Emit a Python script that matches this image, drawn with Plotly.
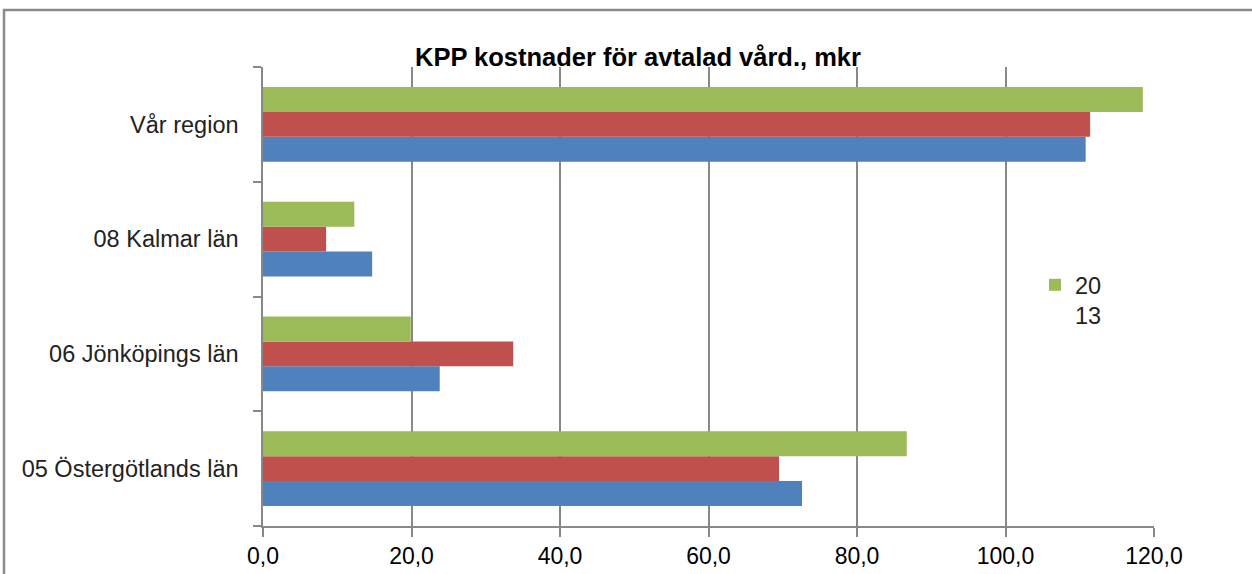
import plotly.graph_objects as go

categories = ["05 Östergötlands län", "06 Jönköpings län", "08 Kalmar län", "Vår region"]
series_blue = [72.6, 23.8, 14.7, 110.8]
series_red = [69.5, 33.7, 8.5, 111.4]
series_green = [86.7, 19.9, 12.3, 118.5]
legend_name = "20<br>13"
tick_vals = [0, 20, 40, 60, 80, 100, 120]
tick_text = ["0,0", "20,0", "40,0", "60,0", "80,0", "100,0", "120,0"]
title_text = "<b>KPP kostnader för avtalad vård., mkr</b>"

fig = go.Figure()
fig.add_trace(go.Bar(y=categories, x=series_blue, orientation="h",
                     marker=dict(color="#4F81BD", line=dict(width=0)), showlegend=False))
fig.add_trace(go.Bar(y=categories, x=series_red, orientation="h",
                     marker=dict(color="#C0504D", line=dict(width=0)), showlegend=False))
fig.add_trace(go.Bar(y=categories, x=series_green, orientation="h", name=legend_name,
                     marker=dict(color="#9BBB59", line=dict(width=0)), showlegend=True))

W, H = 1252, 574
L, R, T, B = 263, 98, 67, 48
pw, ph = W - L - R, H - T - B

def px_x(p):
    return (p - L) / pw

def px_y(p):
    return (H - B - p) / ph

fig.update_layout(
    width=W, height=H,
    margin=dict(l=L, r=R, t=T, b=B, autoexpand=False),
    paper_bgcolor="white", plot_bgcolor="white",
    barmode="group", bargap=0.35, bargroupgap=0,
    title=dict(text=title_text, x=638 / W, xanchor="center", y=1 - 57 / H, yanchor="middle",
               yref="container", xref="container",
               font=dict(family="Liberation Sans, Arial, sans-serif",
                         size=25.5, color="black")),
    font=dict(family="Liberation Sans, Arial, sans-serif", size=23.5, color="#222"),
    xaxis=dict(range=[0, 120], tickvals=tick_vals, ticktext=tick_text,
               showgrid=True, gridcolor="#888888", gridwidth=1.5,
               showline=True, linecolor="#888888", linewidth=1.5,
               ticks="outside", ticklen=9, tickcolor="#888888", tickwidth=1.5,
               zeroline=False,
               tickfont=dict(family="Liberation Sans, Arial, sans-serif",
                             size=23, color="black")),
    yaxis=dict(type="category", categoryorder="array", categoryarray=categories,
               showgrid=False, showline=True, linecolor="#888888", linewidth=1.5,
               ticks="outside", ticklen=8, tickcolor="#888888", tickwidth=1.5,
               tickson="boundaries", ticklabelstandoff=18,
               tickfont=dict(size=23.5, color="#222")),
    legend=dict(x=px_x(1035), y=px_y(263), xanchor="left", yanchor="top",
                bgcolor="rgba(0,0,0,0)", borderwidth=0, valign="top",
                font=dict(size=23.5, color="#222"), itemwidth=30),
    shapes=[dict(type="rect", xref="paper", yref="paper",
                 x0=px_x(4), x1=px_x(1270), y0=px_y(590), y1=px_y(10),
                 line=dict(color="#8a8a8a", width=2.5), fillcolor="rgba(0,0,0,0)", layer="below")],
)

fig.write_html("out.html", config={"displayModeBar": False},
               post_script="document.body.style.margin='0';document.body.style.padding='0';")
